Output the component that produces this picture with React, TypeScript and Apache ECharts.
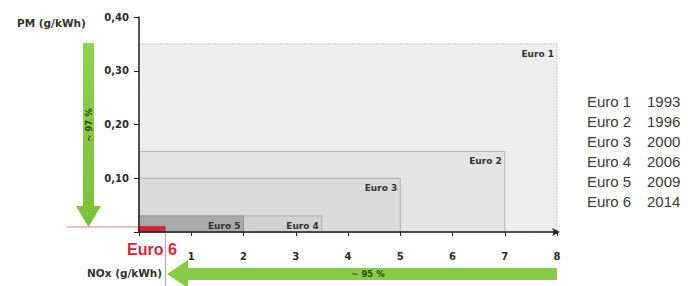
import React, { useEffect, useRef } from "react";
import * as echarts from "echarts";

const categories = ["Euro 1", "Euro 2", "Euro 3", "Euro 4", "Euro 5", "Euro 6"];
const noxLimits = [8, 7, 5, 3.5, 2, 0.5];
const pmLimits = [0.35, 0.15, 0.1, 0.03, 0.03, 0.01];
const years = ["1993", "1996", "2000", "2006", "2009", "2014"];
const fills = ["#ededed", "#e4e4e4", "#dadada", "#d2d2d2", "#a9a9a9", "#d3263a"];
const strokes = ["#c4c4c4", "#b4b4b4", "#acacac", "#b0b0b0", "#9a9a9a", "#d3263a"];

const FONT = "'Liberation Sans', Arial, sans-serif";
const BFONT = "'DejaVu Sans', Verdana, sans-serif";

export default function App() {
  const ref = useRef<HTMLDivElement>(null);
  useEffect(() => {
    const chart = echarts.init(ref.current!, null, { renderer: "svg" });
    const data = categories.map((c, i) => [i, noxLimits[i], pmLimits[i]]);
    const legendTexts: any[] = categories.map((c, i) => ({
      type: "group",
      left: 587,
      top: 94 + i * 20,
      children: [
        { type: "text", x: 0, y: 0, style: { text: c, font: `15px ${FONT}`, fill: "#3a3a3a" } },
        { type: "text", x: 60, y: 0, style: { text: years[i], font: `15px ${FONT}`, fill: "#3a3a3a" } },
      ],
    }));
    chart.setOption({
      animation: false,
      grid: { left: 139, right: 141, top: 17, bottom: 54 },
      xAxis: {
        type: "value",
        min: 0,
        max: 8,
        interval: 1,
        z: 10,
        splitLine: { show: false },
        axisLine: { show: true, lineStyle: { color: "#222", width: 1.5 }, symbol: ["none", "arrow"], symbolSize: [6, 8], symbolOffset: [0, 3] },
        axisTick: { show: true, length: 4, lineStyle: { color: "#222" } },
        axisLabel: {
          margin: 19,
          fontFamily: BFONT,
          fontWeight: "bold",
          fontSize: 10,
          color: "#2a2a2a",
          formatter: (v: number) => (v === 0 ? "" : String(v)),
        },
      },
      yAxis: {
        type: "value",
        min: 0,
        max: 0.4,
        interval: 0.1,
        z: 10,
        splitLine: { show: false },
        axisLine: { show: true, lineStyle: { color: "#222", width: 1.5 } },
        axisTick: { show: true, length: 5, lineStyle: { color: "#222" } },
        axisLabel: {
          margin: 10,
          fontFamily: BFONT,
          fontWeight: "bold",
          fontSize: 10,
          color: "#2a2a2a",
          formatter: (v: number) => (v === 0 ? "" : v.toFixed(2).replace(".", ",")),
        },
      },
      series: [
        {
          type: "custom",
          z: 2,
          data,
          encode: { x: 1, y: 2 },
          renderItem: (params: any, api: any) => {
            const i = api.value(0);
            const nox = api.value(1);
            const pm = api.value(2);
            const p0 = api.coord([0, pm]);
            const p1 = api.coord([nox, 0]);
            const children: any[] = [
              {
                type: "rect",
                shape: { x: p0[0], y: p0[1], width: p1[0] - p0[0], height: p1[1] - p0[1] },
                style: {
                  fill: fills[i],
                  stroke: strokes[i],
                  lineWidth: 1,
                  lineDash: i === 0 ? [2, 1] : null,
                },
              },
            ];
            if (i < 5) {
              children.push({
                type: "text",
                style: {
                  text: categories[i],
                  x: p1[0] - 3,
                  y: p0[1] + 10,
                  align: "right",
                  verticalAlign: "middle",
                  font: `bold 9px ${BFONT}`,
                  fill: "#333",
                },
              });
            }
            return { type: "group", children };
          },
        },
      ],
      graphic: [
        { type: "text", left: 17, top: 17, style: { text: "PM (g/kWh)", font: `bold 10.5px ${BFONT}`, fill: "#333" } },
        { type: "text", left: 87, top: 267, style: { text: "NOx (g/kWh)", font: `bold 10.5px ${BFONT}`, fill: "#333" } },
        {
          type: "polygon",
          shape: { points: [[83, 43], [94, 43], [94, 206], [101, 206], [88.5, 227], [76, 206], [83, 206]] },
          style: {
            fill: new echarts.graphic.LinearGradient(0, 0, 0, 1, [
              { offset: 0, color: "#8fd14f" },
              { offset: 1, color: "#7bbf3a" },
            ]),
          },
        },
        {
          type: "text",
          x: 89,
          y: 125,
          rotation: Math.PI / 2,
          style: { text: "~ 97 %", font: `bold 8.5px ${BFONT}`, fill: "#2d4a15", align: "center", verticalAlign: "middle" },
        },
        {
          type: "polygon",
          shape: { points: [[167, 274], [188, 260], [188, 268], [557, 268], [557, 280], [188, 280], [188, 288]] },
          style: { fill: "#86cc45" },
        },
        { type: "text", x: 368, y: 274, style: { text: "~ 95 %", font: `bold 8.5px ${BFONT}`, fill: "#2d4a15", align: "center", verticalAlign: "middle" } },
        { type: "line", shape: { x1: 67, y1: 227, x2: 139, y2: 227 }, style: { stroke: "#e07a86", lineWidth: 1 } },
        { type: "line", shape: { x1: 165.5, y1: 227, x2: 165.5, y2: 286 }, style: { stroke: "#c9a0b0", lineWidth: 1 } },
        { type: "text", left: 127, top: 241, style: { text: "Euro 6", font: `bold 16px ${FONT}`, fill: "#d3263a" } },
        ...legendTexts,
      ],
    });
    return () => chart.dispose();
  }, []);
  return <div ref={ref} style={{ width: 698, height: 286, position: "absolute", left: 0, top: 0 }} />;
}
